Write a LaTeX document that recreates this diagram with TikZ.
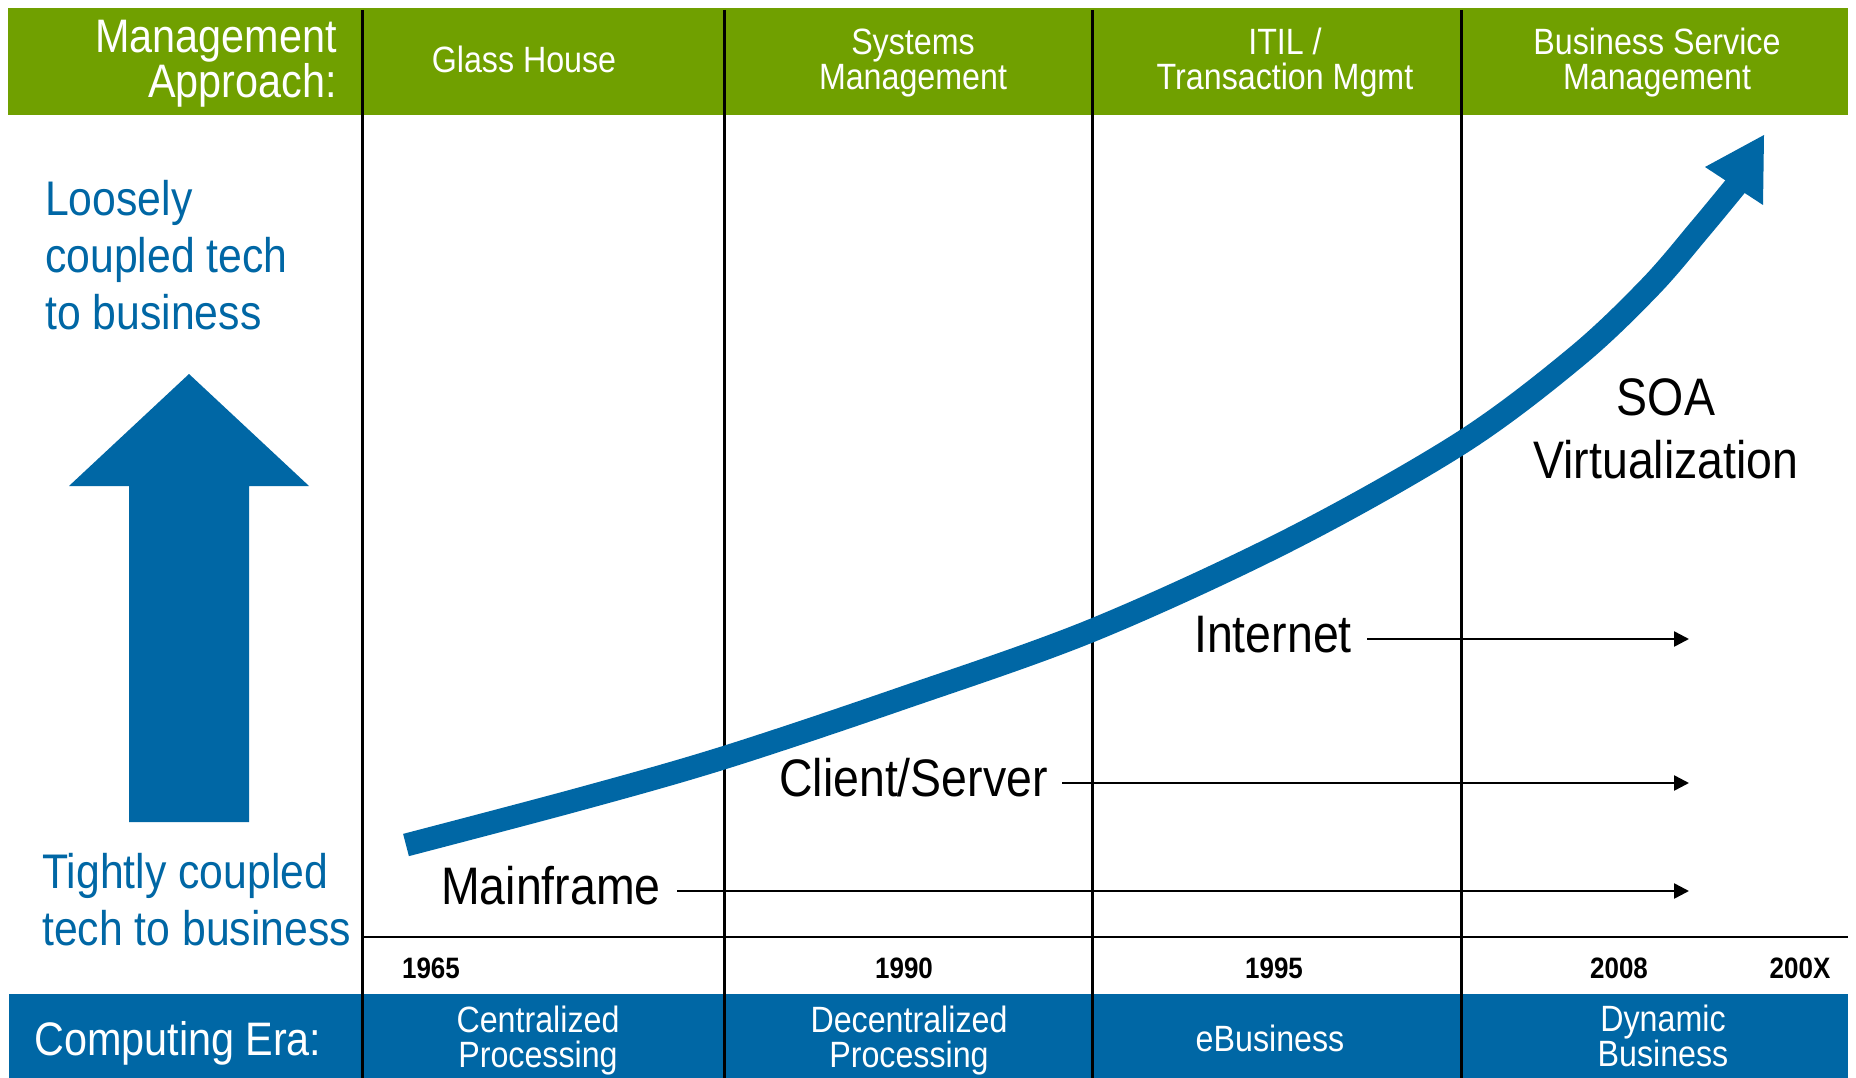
\documentclass[tikz,border=0pt]{standalone}
\usepackage{fontspec}
\setmainfont{Liberation Sans}[FakeStretch=0.88]
\usetikzlibrary{arrows.meta}
\definecolor{bandgreen}{RGB}{112,160,0}
\definecolor{eraBlue}{RGB}{0,103,165}
\begin{document}
\begin{tikzpicture}[x=1pt,y=-1pt,
  hdr/.style={text=white, font=\fontsize{36.6}{35}\selectfont, align=center, inner sep=0pt},
  rowtitle/.style={text=white, font=\fontsize{47}{45}\selectfont, inner sep=0pt},
  lbl/.style={text=black, font=\fontsize{52.8}{63}\selectfont, inner sep=0pt},
  bluetxt/.style={text=eraBlue, font=\fontsize{48.6}{57}\selectfont, align=left, inner sep=0pt},
  year/.style={text=black, font=\fontsize{29.5}{30}\selectfont\bfseries, inner sep=0pt},
  divider/.style={line width=3pt, black},
  hline/.style={line width=2.5pt, black, -{Triangle[length=15pt,width=15pt]}},
]
\useasboundingbox (0,0) rectangle (1856,1078);
\fill[white] (0,0) rectangle (1856,1078);

% header and footer bands
\fill[bandgreen] (8,8) rectangle (1848,115);
\fill[eraBlue] (9,994) rectangle (1848,1078);

% timeline grid
\draw[line width=2pt] (362,937) -- (1848,937);
\foreach \xx in {362,724,1092,1461}
  \draw[divider] (\xx,10) -- (\xx,1078);

% management approach row (multi-line nodes are placed by their last baseline)
\node[rowtitle, align=right, anchor=base east] (mgmt) at (337,98) {Management\\Approach:};
\node[hdr, anchor=base] (glass) at (524,73) {Glass House};
\node[hdr, anchor=base] (sysm) at (913,90) {Systems\\Management};
\node[hdr, anchor=base] (itil) at (1285,90) {ITIL /\\Transaction Mgmt};
\node[hdr, anchor=base] (bsm) at (1657,90) {Business Service\\Management};

% computing era row
\node[rowtitle, anchor=base west] (era) at (34,1055) {Computing Era:};
\node[hdr, anchor=base] (central) at (538,1067) {Centralized\\Processing};
\node[hdr, anchor=base] (decentral) at (909,1067) {Decentralized\\Processing};
\node[hdr, anchor=base] (ebiz) at (1270,1051) {eBusiness};
\node[hdr, anchor=base] (dyn) at (1663,1066) {Dynamic\\Business};

% years
\node[year, anchor=base] (y1965) at (431,978) {1965};
\node[year, anchor=base] (y1990) at (904,978) {1990};
\node[year, anchor=base] (y1995) at (1274,978) {1995};
\node[year, anchor=base] (y2008) at (1619,978) {2008};
\node[year, anchor=base] (y200x) at (1800,978) {200X};

% coupling scale on the left
\node[bluetxt, anchor=base west] (loose) at (45,329) {Loosely\\coupled tech\\to business};
\node[bluetxt, anchor=base west] (tight) at (42,945) {Tightly coupled\\tech to business};
\fill[eraBlue] (129,822) -- (129,486) -- (69,486) -- (189,374)
  -- (309,486) -- (249,486) -- (249,822) -- cycle;

% growth curve
\draw[eraBlue, line width=23pt] plot[smooth, tension=0.55] coordinates
  {(406,845) (580,799) (723,758) (900,699) (1093,630) (1289,540)
   (1461,443) (1576,357) (1650,287) (1700,229) (1738,183)};
\coordinate (curveTip) at (1764,135);
\fill[eraBlue] (curveTip) -- (1705,167) -- (1763,205) -- cycle;

% technology labels and their spans
\node[lbl, anchor=base west] (mf) at (441,904) {Mainframe};
\node[lbl, anchor=base west] (cs) at (779,796) {Client/Server};
\node[lbl, anchor=base west] (inet) at (1194,652) {Internet};
\node[lbl, anchor=base, align=center] (soa) at (1666,478) {SOA\\Virtualization};

\coordinate (mfStart) at (677,891);
\coordinate (mfEnd) at (1689,891);
\coordinate (csStart) at (1062,783);
\coordinate (csEnd) at (1689,783);
\coordinate (inStart) at (1367,639);
\coordinate (inEnd) at (1689,639);
\draw[hline] (mfStart) -- (mfEnd);
\draw[hline] (csStart) -- (csEnd);
\draw[hline] (inStart) -- (inEnd);
\end{tikzpicture}
\end{document}
